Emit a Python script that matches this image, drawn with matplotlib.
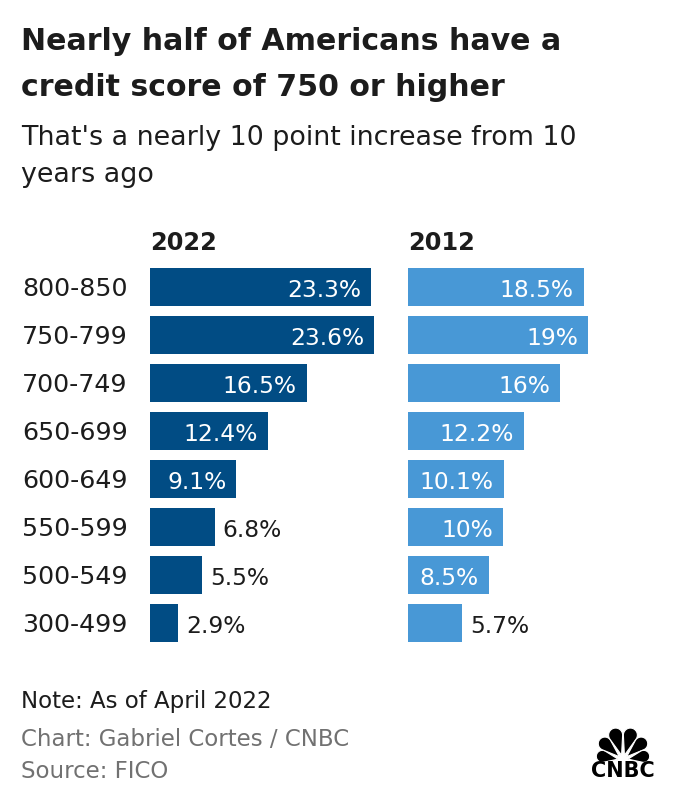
import matplotlib
matplotlib.use("Agg")
import matplotlib.pyplot as plt
from matplotlib.patches import Polygon
import numpy as np

categories = ["800-850", "750-799", "700-749", "650-699", "600-649", "550-599", "500-549", "300-499"]
values_2022 = [23.3, 23.6, 16.5, 12.4, 9.1, 6.8, 5.5, 2.9]
values_2012 = [18.5, 19, 16, 12.2, 10.1, 10, 8.5, 5.7]
labels_2022 = ["23.3%", "23.6%", "16.5%", "12.4%", "9.1%", "6.8%", "5.5%", "2.9%"]
labels_2012 = ["18.5%", "19%", "16%", "12.2%", "10.1%", "10%", "8.5%", "5.7%"]

DARK = "#014c84"
LIGHT = "#4898d6"
TXT = "#1c1c1c"
GRAY = "#717171"

FONT = ['DejaVu Sans']
plt.rcParams['font.family'] = FONT

W, H = 676, 806
fig = plt.figure(figsize=(W / 100, H / 100), dpi=100)
renderer = fig.canvas.get_renderer()

def fit_size(s, target_px, weight='normal'):
    t = fig.text(0, 0, s, fontsize=10, fontweight=weight)
    w = t.get_window_extent(renderer=renderer).width
    t.remove()
    return 10 * target_px / w

def px(x, y):
    return x / W, 1 - y / H

def add_ax(x0, y0, x1, y1):
    return fig.add_axes([x0 / W, 1 - y1 / H, (x1 - x0) / W, (y1 - y0) / H])

# Titles
ts = fit_size("Nearly half of Americans have a", 542, 'bold')
fig.text(*px(21, 50), "Nearly half of Americans have a", fontsize=ts, fontweight='bold', color=TXT, va='baseline')
fig.text(*px(21, 96), "credit score of 750 or higher", fontsize=ts, fontweight='bold', color=TXT, va='baseline')
ss = fit_size("That's a nearly 10 point increase from 10", 556)
fig.text(*px(21, 145), "That's a nearly 10 point increase from 10", fontsize=ss, color=TXT, va='baseline')
fig.text(*px(21, 182), "years ago", fontsize=ss, color=TXT, va='baseline')

scale = 9.49  # px per percent
top, bottom = 263, 647
n = len(categories)
lab_size = fit_size("23.6%", 74)
cat_size = fit_size("800-850", 105)
hdr_size = fit_size("2022", 67, 'bold')

def panel(x0, vals, labels, color, header):
    width_units = 25
    ax = add_ax(x0, top, x0 + width_units * scale, bottom)
    y = np.arange(n)
    ax.barh(y, vals, height=0.81, color=color)
    ax.set_xlim(0, width_units)
    ax.set_ylim(n - 0.5, -0.5)
    ax.axis('off')
    for yi, v, lab in zip(y, vals, labels):
        if v > 7:
            ax.annotate(lab, (v, yi), xytext=(-7.2, -7.5), textcoords='offset points',
                        color='white', ha='right', va='baseline', fontsize=lab_size)
        else:
            ax.annotate(lab, (v, yi), xytext=(6.0, -7.5), textcoords='offset points',
                        color=TXT, ha='left', va='baseline', fontsize=lab_size)
    fig.text(*px(x0, 250), header, fontsize=hdr_size, fontweight='bold', color=TXT, va='baseline')
    return ax

ax1 = panel(150, values_2022, labels_2022, DARK, "2022")
ax2 = panel(408, values_2012, labels_2012, LIGHT, "2012")

for i, c in enumerate(categories):
    yy = top + (i + 0.5) * (bottom - top) / n
    fig.text(*px(22, yy + 8.5), c, fontsize=cat_size, color=TXT, va='baseline')

fs = fit_size("Note: As of April 2022", 251)
fig.text(*px(21, 708), "Note: As of April 2022", fontsize=fs, color=TXT, va='baseline')
fig.text(*px(21, 746), "Chart: Gabriel Cortes / CNBC", fontsize=fs, color=GRAY, va='baseline')
fig.text(*px(21, 778), "Source: FICO", fontsize=fs, color=GRAY, va='baseline')

# CNBC logo approximation (pixel coordinates)
lx0, ly0, lx1, ly1 = 580, 718, 666, 786
lax = add_ax(lx0, ly0, lx1, ly1)
lax.set_xlim(lx0, lx1)
lax.set_ylim(ly1, ly0)
lax.axis('off')
bx, by = 623, 760
petals = [(-80, 27, 6.0), (-48, 31, 6.6), (-16.5, 33, 7.0), (16.5, 33, 7.0), (48, 31, 6.6), (80, 27, 6.0)]
r0 = 5
for a, L, R in petals:
    r = np.deg2rad(a)
    d = np.array([np.sin(r), -np.cos(r)])
    p = np.array([np.cos(r), np.sin(r)])
    c = L - R
    phi = np.arcsin(min(R / (c - r0), 0.99))
    al = np.pi / 2 + phi
    ts_ = np.linspace(-al, al, 40)
    pts = [(r0, 0.0)] + [(c + R * np.cos(t), R * np.sin(t)) for t in ts_]
    xy = [(bx + u * d[0] + v * p[0], by + u * d[1] + v * p[1]) for u, v in pts]
    lax.add_patch(Polygon(xy, closed=True, facecolor='black', edgecolor='white', lw=0.8))
lsz = fit_size("CNBC", 64, 'heavy')
lax.text(623, 777, "CNBC", fontsize=lsz, fontweight='heavy', ha='center', va='baseline', color='black')

fig.savefig("out.png", dpi=100, facecolor='white')
